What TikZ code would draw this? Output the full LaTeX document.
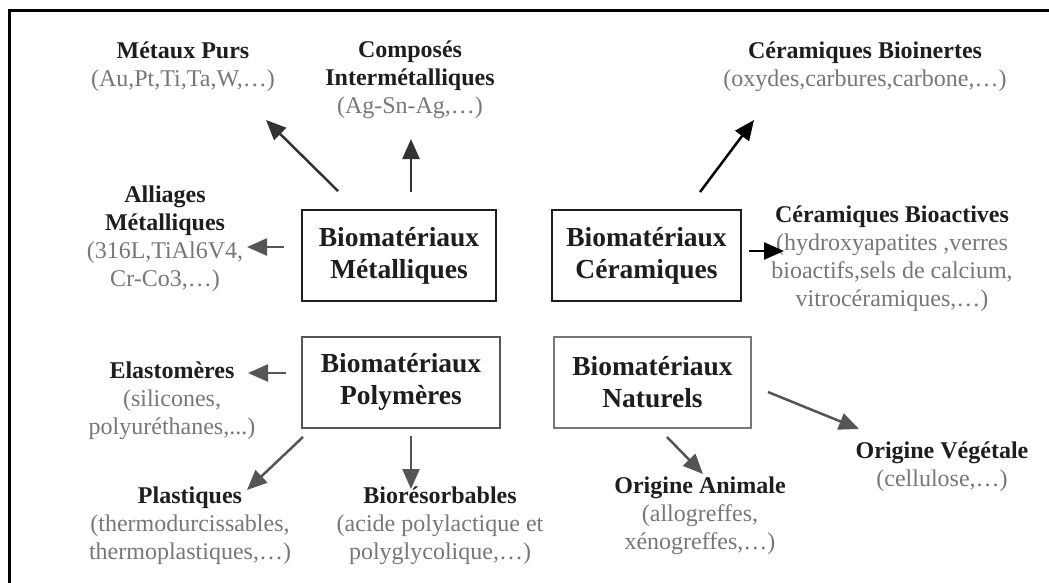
\documentclass[tikz,border=0pt]{standalone}
\usepackage{fontspec}
\setmainfont{Liberation Serif}
\usetikzlibrary{arrows.meta}
\definecolor{dk}{HTML}{1E1E1E}
\definecolor{gr}{HTML}{777777}
\definecolor{ag}{HTML}{555555}
\definecolor{ad}{HTML}{333333}
\begin{document}
\begin{tikzpicture}[x=1pt,y=-1pt,
  box/.style={draw=dk, line width=2pt, minimum width=#1, minimum height=91pt, inner sep=0pt,
    font=\bfseries\fontsize{27.5}{32}\selectfont, align=center, text=dk},
  box/.default=194pt,
  lab/.style={align=center, font=\fontsize{24}{28}\selectfont, text=gr, inner sep=0pt},
  arr/.style={-{Triangle[length=20pt,width=17pt]}, line width=2.5pt, draw=#1, fill=#1},
  arr/.default=ad]
\useasboundingbox (0,0) rectangle (1049,582);
\fill[white] (0,0) rectangle (1049,582);
\draw[line width=3pt] (9.5,600) -- (9.5,10.5) -- (1060,10.5);

% boxes
\node[box=194pt] (met) at (399,255.5) {Biomatériaux\\Métalliques};
\node[box=189pt] (cer) at (646.5,255.5) {Biomatériaux\\Céramiques};
\node[box=198pt, draw=ag] (pol) at (401,382) {Biomatériaux\\Polymères};
\node[box=197pt, draw=gr] (nat) at (652.5,382) {Biomatériaux\\Naturels};

% labels
\node[lab] (mp) at (183,67) {{\bfseries\color{dk}Métaux Purs}\\(Au,Pt,Ti,Ta,W,…)};
\node[lab] (ci) at (410,80) {{\bfseries\color{dk}Composés}\\{\bfseries\color{dk}Intermétalliques}\\(Ag-Sn-Ag,…)};
\node[lab] (cb) at (865,67) {{\bfseries\color{dk}Céramiques Bioinertes}\\(oxydes,carbures,carbone,…)};
\node[lab] (al) at (165,239) {{\bfseries\color{dk}Alliages}\\{\bfseries\color{dk}Métalliques}\\(316L,TiAl6V4,\\Cr-Co3,…)};
\node[lab] (ca) at (892,259) {{\bfseries\color{dk}Céramiques Bioactives}\\(hydroxyapatites ,verres\\bioactifs,sels de calcium,\\vitrocéramiques,…)};
\node[lab] (el) at (172,401) {{\bfseries\color{dk}Elastomères}\\(silicones,\\polyuréthanes,...)};
\node[lab] (pl) at (190,526) {{\bfseries\color{dk}Plastiques}\\(thermodurcissables,\\thermoplastiques,…)};
\node[lab] (bi) at (440,526) {{\bfseries\color{dk}Biorésorbables}\\(acide polylactique et\\polyglycolique,…)};
\node[lab] (oa) at (700,516) {{\bfseries\color{dk}Origine Animale}\\(allogreffes,\\xénogreffes,…)};
\node[lab] (ov) at (942,467) {{\bfseries\color{dk}Origine Végétale}\\(cellulose,…)};

% arrow end points
\coordinate (mpS) at (338,191); \coordinate (mpT) at (266,120);
\coordinate (ciS) at (411,192); \coordinate (ciT) at (411,139);
\coordinate (cbS) at (700,192); \coordinate (cbT) at (754,120);
\coordinate (alS) at (284,247); \coordinate (alT) at (247,247);
\coordinate (caS) at (749,251); \coordinate (caT) at (784,251);
\coordinate (elS) at (286,373); \coordinate (elT) at (248,373);
\coordinate (plS) at (303,437); \coordinate (plT) at (247,490);
\coordinate (biS) at (411,436); \coordinate (biT) at (411,489);
\coordinate (oaS) at (667,437); \coordinate (oaT) at (703,474);
\coordinate (ovS) at (768,392); \coordinate (ovT) at (859,429);

\draw[arr] (mpS) -- (mpT);
\draw[arr] (ciS) -- (ciT);
\draw[arr=black] (cbS) -- (cbT);
\draw[arr=ag] (alS) -- (alT);
\draw[arr=black] (caS) -- (caT);
\draw[arr=ag] (elS) -- (elT);
\draw[arr=ag] (plS) -- (plT);
\draw[arr=ag] (biS) -- (biT);
\draw[arr=ag] (oaS) -- (oaT);
\draw[arr=ag] (ovS) -- (ovT);
\end{tikzpicture}
\end{document}
